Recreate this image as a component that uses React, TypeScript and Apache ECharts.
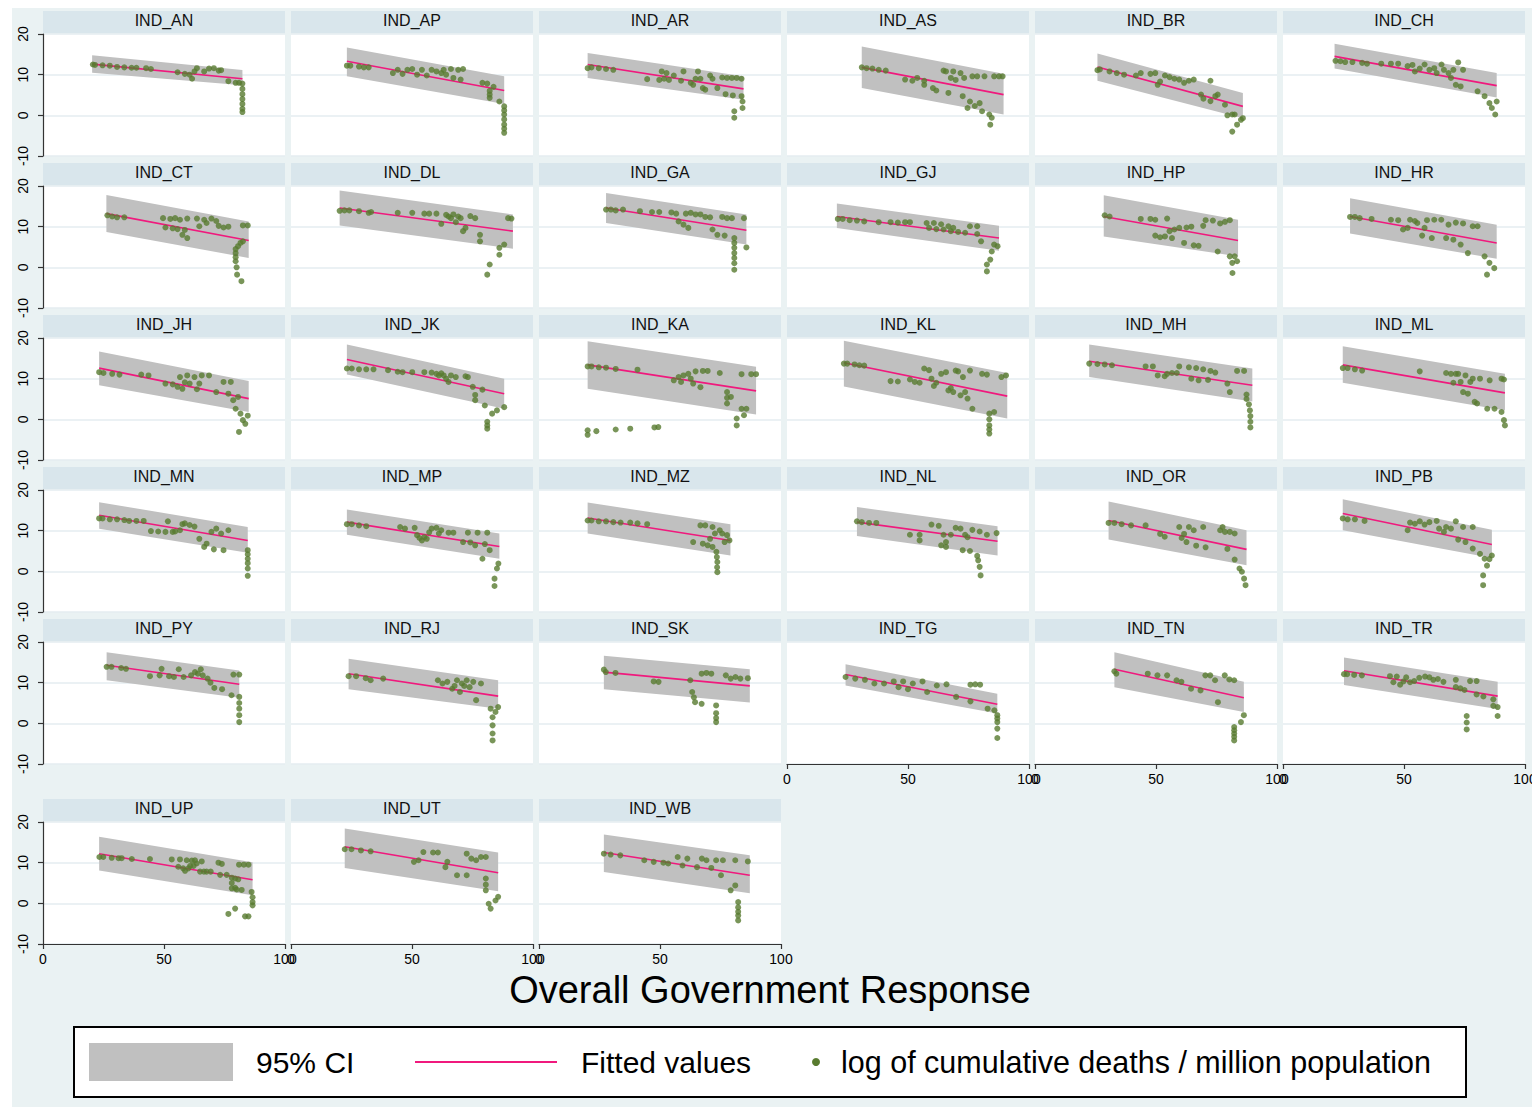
import React, { useEffect, useRef } from 'react';
import * as echarts from 'echarts';

// ---------------- DATA ----------------
const PANELS = ['IND_AN','IND_AP','IND_AR','IND_AS','IND_BR','IND_CH','IND_CT','IND_DL','IND_GA','IND_GJ','IND_HP','IND_HR','IND_JH','IND_JK','IND_KA','IND_KL','IND_MH','IND_ML','IND_MN','IND_MP','IND_MZ','IND_NL','IND_OR','IND_PB','IND_PY','IND_RJ','IND_SK','IND_TG','IND_TN','IND_TR','IND_UP','IND_UT','IND_WB'];

const X_MIN = 0, X_MAX = 100, X_STEP = 50;
const Y_MIN = -10, Y_MAX = 20, Y_STEP = 10;

const FIT_X0 = [20.3,23.1,20.1,30.9,25.8,21.3, 26.2,20.1,27.7,20.6,28.4,27.7, 23.2,23.1,20.1,23.5,22.4,24.7, 23.2,23.1,20.1,28.9,30.4,24.7, 26.3,23.8,26.8,24.2,32.8,25.2, 23.2,22.2,26.8];
const FIT_X1 = [82.4,88.1,84.5,89.5,85.9,88.3, 85.0,91.7,85.7,87.6,83.9,88.3, 85.0,88.1,89.7,91.0,89.8,91.7, 84.6,86.1,79.1,87.0,87.4,86.3, 81.1,85.6,87.1,86.9,86.3,88.7, 86.6,85.6,87.1];
const FIT_Y0 = [12.6,13.3,12.5,11.8,11.9,14.5, 13.2,14.6,14.6,12.5,12.5,12.5, 12.6,14.7,13.4,13.9,14.3,13.4, 13.8,12.1,13.1,12.1,12.5,14.2, 14.3,12.2,12.6,12.0,13.3,12.95, 12.2,13.9,12.5];
const FIT_Y1 = [9.0,6.1,6.5,5.1,2.2,7.3, 6.6,8.9,9.1,7.2,6.6,6.0, 5.1,6.3,7.0,5.7,8.4,6.5, 7.6,6.1,7.6,7.4,5.4,6.6, 9.6,6.7,9.2,4.7,6.3,6.7, 5.8,7.5,6.9];
const CI_UP0 = [14.75,16.7,15.3,16.9,15.2,17.6, 17.8,18.9,18.3,15.7,17.7,17.0, 16.7,18.4,19.2,19.3,18.4,18.0, 17.0,15.2,16.9,15.8,17.2,17.7, 17.5,15.9,16.6,14.5,17.5,16.2, 16.4,18.4,16.9];
const CI_UP1 = [11.15,9.6,9.6,10.2,5.5,10.4, 11.3,13.0,13.0,10.2,11.7,10.5, 9.4,10.0,12.9,11.4,12.5,11.2, 10.9,9.3,11.6,11.1,10.1,10.2, 13.0,10.6,13.3,7.3,10.2,10.25, 10.1,12.5,11.8];
const CI_LO0 = [10.5,9.6,9.2,6.7,8.5,11.5, 8.7,10.3,10.9,9.7,7.6,8.3, 8.4,11.0,7.5,8.1,10.4,9.0, 10.5,9.0,9.3,8.7,7.8,10.1, 10.6,8.4,8.4,9.3,8.9,9.4, 8.1,8.7,7.7];
const CI_LO1 = [7.4,2.8,3.85,0.2,-0.7,4.4, 2.3,4.6,5.6,4.1,2.7,2.1, 1.8,2.6,1.2,0.2,4.4,2.2, 4.6,3.1,3.9,3.9,1.5,3.3, 6.3,3.6,5.1,2.4,2.8,3.5, 2.0,3.0,2.5];

const P_AN = [[20.6,12.5],[21.5,12.4],[24.6,12.3],[27.6,12.2],[30.6,11.9],[33.6,11.8],[36.6,11.7],[38.6,11.7],[42.6,11.6],[44.6,11.4],[55.6,10.6],[58.6,10.2],[60.6,10.0],[61.6,9.0],[62.6,10.8],[63.6,11.6],[66.6,10.8],[68.6,11.5],[70.6,11.6],[72.6,11.0],[73.6,11.1],[76.6,8.4],[79.6,8.0],[81.0,8.0],[82.4,7.8],[82.4,6.5],[82.4,5.2],[82.4,4.0],[82.4,2.8],[82.4,1.6],[82.4,0.8]];
const P_AP = [[23.1,12.2],[24.5,12.2],[28.1,12.0],[30.1,11.8],[32.1,11.8],[42.1,10.4],[44.1,11.2],[46.1,10.2],[48.1,11.2],[50.1,11.4],[52.1,10.0],[54.1,11.2],[56.1,9.8],[58.1,11.2],[60.1,10.8],[62.1,10.4],[63.1,11.2],[64.1,10.0],[66.1,11.4],[67.1,9.2],[69.1,11.2],[70.1,8.8],[71.1,11.4],[79.1,8.0],[81.1,7.8],[82.1,6.0],[82.1,5.1],[82.1,4.3],[83.7,7.0],[86.1,3.4],[88.1,2.2],[88.1,1.2],[88.1,0.2],[88.1,-1.0],[88.1,-2.3],[88.1,-3.3],[88.1,-4.3]];
const P_AR = [[20.1,11.6],[21.7,11.8],[24.7,11.6],[27.7,11.4],[30.7,11.2],[44.7,8.9],[49.7,8.7],[50.7,10.8],[51.7,9.0],[52.7,10.4],[53.7,8.7],[55.7,9.8],[58.7,8.5],[59.7,10.8],[62.7,8.0],[63.7,7.5],[64.7,9.0],[65.7,10.8],[66.7,9.0],[67.7,6.7],[68.7,6.3],[70.7,9.8],[71.7,9.0],[73.7,6.7],[75.7,9.3],[77.7,9.2],[79.7,9.2],[81.7,9.2],[83.7,9.0],[77.1,5.2],[80.1,4.9],[80.7,1.0],[80.7,-0.6],[83.7,4.7],[84.1,3.4],[84.1,1.8]];
const P_AS = [[30.9,11.8],[32.9,11.6],[35.3,11.5],[37.9,11.2],[40.8,11.0],[48.8,8.8],[51.8,8.5],[53.8,9.2],[56.7,7.5],[56.7,8.5],[60.3,6.7],[61.7,6.1],[64.7,11.0],[65.7,10.8],[66.7,5.5],[67.7,9.2],[68.7,10.8],[69.7,8.7],[71.7,10.4],[72.6,4.7],[73.2,9.2],[74.6,1.8],[75.6,3.4],[76.6,9.6],[77.6,2.3],[78.6,9.6],[79.6,3.0],[80.6,1.0],[81.6,9.6],[83.6,0.2],[84.0,-2.3],[84.6,-0.6],[85.6,9.6],[87.6,9.6],[89.1,9.6]];
const P_BR = [[25.8,11.1],[26.8,11.3],[30.8,10.8],[33.8,10.4],[36.8,10.0],[41.7,9.8],[43.7,10.4],[47.7,10.2],[49.7,10.4],[50.7,7.5],[51.7,8.3],[53.7,9.8],[55.6,9.4],[57.6,9.0],[59.6,8.8],[61.6,8.0],[63.6,8.5],[65.6,8.8],[68.6,5.1],[69.6,4.1],[72.5,8.5],[72.5,3.5],[74.5,4.7],[75.5,5.1],[78.5,2.6],[79.5,0.0],[81.5,0.2],[81.5,-4.0],[82.5,0.2],[83.5,-2.3],[85.1,-1.1],[85.9,-0.7]];
const P_CH = [[21.7,13.4],[23.7,13.3],[25.7,13.1],[28.7,13.1],[32.7,12.9],[34.7,12.7],[40.6,12.7],[44.6,12.7],[47.6,12.7],[51.5,12.1],[53.5,12.4],[54.5,10.8],[56.5,11.5],[58.5,12.5],[60.5,11.2],[62.5,11.6],[63.5,10.4],[65.5,12.5],[66.5,11.2],[68.4,10.4],[69.4,9.2],[70.4,11.2],[71.4,7.5],[72.4,13.0],[73.4,7.1],[74.4,11.2],[80.4,5.9],[83.3,4.7],[85.3,3.0],[86.3,1.8],[87.7,0.2],[88.3,3.4]];
const P_CT = [[26.6,12.8],[28.6,12.5],[30.6,12.3],[33.6,12.3],[49.6,12.1],[50.6,9.8],[52.6,11.9],[53.6,9.6],[54.6,12.1],[55.6,9.4],[56.6,11.7],[57.6,8.0],[58.6,9.2],[59.6,7.2],[59.6,12.0],[63.6,12.0],[64.6,10.1],[66.6,11.7],[67.6,10.9],[69.6,12.0],[71.6,11.4],[72.6,10.2],[74.6,9.8],[76.6,10.0],[79.6,4.5],[79.6,3.5],[79.6,2.5],[79.6,1.5],[80.0,0.0],[80.2,-1.8],[80.6,5.2],[81.6,6.0],[82.0,-3.4],[82.6,6.4],[82.6,10.3],[84.6,10.3]];
const P_DL = [[20.1,13.9],[22.1,14.0],[24.1,14.0],[28.1,13.8],[32.1,13.4],[33.1,13.6],[44.1,13.4],[50.1,13.4],[55.1,13.2],[57.1,13.2],[60.1,13.2],[62.1,10.7],[64.1,12.9],[65.1,12.5],[66.1,12.1],[67.1,13.0],[68.1,11.1],[69.1,12.5],[70.1,12.1],[71.1,8.9],[72.1,9.7],[74.1,12.6],[76.1,12.1],[78.1,8.0],[78.1,6.4],[81.1,-1.8],[82.1,0.7],[86.1,3.1],[86.1,4.8],[88.1,5.6],[89.7,12.1],[91.1,12.0]];
const P_GA = [[27.7,14.2],[29.7,14.2],[31.7,14.0],[34.7,14.2],[41.7,13.8],[46.7,13.6],[49.7,13.6],[54.7,13.5],[56.7,13.2],[57.7,11.3],[59.7,10.5],[60.7,13.2],[61.7,9.7],[62.7,13.4],[64.7,13.0],[66.7,13.0],[68.7,12.4],[70.7,12.3],[71.7,9.3],[73.7,8.0],[75.7,12.4],[76.7,7.8],[77.7,12.1],[79.7,12.1],[80.7,7.2],[80.7,6.0],[80.7,4.8],[80.7,3.5],[80.7,2.3],[80.7,1.0],[80.7,-0.6],[84.7,12.1],[85.7,4.9]];
const P_GJ = [[21.0,11.9],[23.0,11.9],[25.9,11.6],[28.9,11.5],[31.9,11.3],[37.9,11.1],[42.8,11.1],[45.8,11.0],[48.8,11.1],[50.8,11.1],[57.7,10.9],[58.7,9.7],[60.7,10.9],[61.7,9.4],[63.7,10.6],[64.7,9.3],[66.7,10.1],[67.7,8.9],[68.7,9.7],[70.7,8.7],[73.6,8.5],[75.6,10.1],[78.6,8.2],[78.6,10.1],[80.2,6.4],[82.6,-1.0],[82.6,0.7],[84.0,1.9],[84.6,3.9],[85.6,5.6],[87.0,5.2]];
const P_HP = [[28.8,12.8],[30.8,12.5],[43.7,11.9],[47.7,11.9],[49.7,11.7],[54.6,12.0],[49.7,7.8],[51.7,7.4],[53.7,7.6],[55.6,8.9],[56.6,7.2],[57.6,9.3],[59.6,9.7],[61.6,6.0],[62.6,9.8],[64.6,10.0],[65.6,5.4],[67.6,5.3],[69.5,10.2],[70.5,11.6],[73.5,11.5],[75.5,3.9],[76.5,10.8],[78.5,11.2],[80.5,11.6],[80.5,2.7],[81.5,1.1],[82.5,2.7],[81.6,-1.4],[83.5,1.5]];
const P_HR = [[27.7,12.4],[29.7,12.4],[31.7,12.1],[36.6,11.9],[44.6,11.7],[47.6,11.6],[49.6,9.3],[51.5,9.7],[52.5,11.7],[54.5,11.4],[55.5,10.9],[57.5,7.8],[58.5,9.7],[59.5,11.6],[61.5,7.2],[62.5,11.7],[65.4,11.7],[67.4,7.2],[68.4,10.5],[70.4,6.8],[71.4,11.0],[73.4,5.6],[74.4,10.8],[76.4,3.5],[78.4,10.1],[80.4,10.1],[83.3,2.7],[84.3,-1.8],[85.3,1.1],[87.3,-0.2]];
const P_JH = [[23.2,11.6],[25.0,11.4],[28.6,11.2],[31.6,11.0],[40.6,11.0],[43.6,10.8],[50.6,8.8],[53.6,8.6],[55.6,8.0],[56.6,10.4],[57.6,7.5],[58.6,9.1],[59.6,10.8],[60.6,8.8],[62.6,10.4],[63.6,7.4],[64.6,8.8],[65.6,10.8],[68.6,10.8],[71.6,6.7],[74.6,9.2],[76.6,6.3],[77.6,9.2],[78.6,4.7],[79.6,2.6],[80.6,5.5],[81.0,-3.1],[81.6,1.4],[82.6,-0.2],[83.6,-1.1],[84.6,0.9]];
const P_JK = [[23.1,12.5],[25.1,12.5],[28.1,12.3],[31.1,12.3],[34.1,12.3],[40.1,12.1],[44.1,11.7],[46.1,11.6],[50.1,11.6],[55.1,11.6],[58.1,11.5],[60.1,11.2],[61.1,10.8],[62.1,11.3],[63.1,10.8],[64.1,10.0],[65.1,9.2],[66.1,10.8],[68.1,10.4],[72.1,10.6],[73.1,10.4],[75.1,8.0],[76.1,6.0],[76.1,4.7],[79.1,7.3],[80.1,3.4],[81.1,-2.3],[81.1,-1.5],[81.1,-0.6],[83.1,1.4],[85.1,2.2],[88.1,3.0]];
const P_KA = [[20.1,13.0],[21.7,13.0],[24.7,12.8],[27.7,12.7],[31.7,12.4],[40.7,12.2],[55.7,9.6],[57.7,10.4],[58.7,9.2],[59.7,10.8],[61.7,11.2],[62.7,10.0],[63.7,8.8],[64.7,11.8],[66.7,7.9],[67.7,11.9],[69.7,11.9],[74.7,11.4],[77.7,6.7],[77.7,5.3],[77.7,3.9],[79.3,5.5],[81.7,0.2],[81.7,-1.5],[83.7,2.6],[84.7,1.0],[85.7,2.6],[83.7,11.1],[87.7,11.1],[89.7,11.1],[20.1,-3.8],[20.1,-2.7],[23.7,-2.9],[31.7,-2.5],[37.7,-2.3],[47.7,-2.0],[49.3,-1.9]];
const P_KL = [[23.5,13.7],[24.9,13.7],[27.9,13.5],[29.9,13.3],[31.9,13.2],[42.8,9.4],[45.8,9.3],[50.8,9.8],[52.8,9.2],[54.8,9.0],[56.7,12.5],[58.7,12.1],[59.7,10.0],[60.7,8.2],[61.7,9.0],[63.7,11.2],[65.7,11.6],[66.7,7.1],[67.7,7.7],[68.7,6.7],[69.7,12.0],[70.7,11.8],[71.7,5.9],[72.7,10.4],[73.6,6.7],[74.6,5.1],[75.6,12.0],[76.6,2.6],[80.6,11.2],[82.6,11.0],[83.6,1.4],[83.6,0.0],[83.6,-1.5],[83.6,-2.5],[83.6,-3.5],[85.6,1.8],[88.6,10.4],[90.5,10.8]];
const P_MH = [[22.4,13.7],[25.8,13.6],[28.8,13.5],[31.8,13.3],[45.7,13.0],[48.7,13.0],[50.7,10.8],[53.6,10.6],[54.6,11.2],[56.6,11.4],[58.6,11.4],[59.6,13.0],[63.6,12.8],[64.6,10.0],[66.6,12.6],[67.6,9.6],[69.5,12.3],[71.5,9.7],[72.5,11.9],[74.5,11.5],[79.5,8.8],[80.5,6.7],[83.5,11.9],[86.4,11.9],[87.4,6.1],[87.4,5.0],[88.4,3.7],[88.8,2.2],[89.0,0.8],[89.0,-0.6],[89.0,-2.0]];
const P_ML = [[24.7,12.6],[26.7,12.6],[29.7,12.3],[32.7,12.0],[56.5,11.8],[67.4,11.4],[69.4,11.2],[70.4,9.0],[71.4,11.2],[72.4,11.2],[73.4,9.2],[74.4,6.7],[75.4,10.8],[76.4,6.3],[77.4,9.2],[78.4,10.0],[79.2,4.3],[80.2,3.9],[81.4,10.0],[84.4,2.6],[85.4,9.6],[87.4,2.6],[90.3,1.8],[91.3,-0.2],[91.7,-1.5],[90.3,10.0],[91.3,9.8]];
const P_MN = [[23.2,13.0],[24.6,13.0],[27.6,12.8],[30.6,12.8],[33.6,12.6],[35.6,12.4],[38.6,12.4],[41.6,12.4],[44.6,9.9],[47.6,9.8],[50.6,9.7],[51.6,12.3],[53.6,9.7],[54.6,9.8],[56.6,10.1],[57.6,11.6],[58.6,11.8],[60.6,11.4],[62.6,11.0],[64.6,8.0],[66.6,6.0],[67.6,6.8],[69.6,9.7],[70.6,5.4],[71.6,10.5],[73.6,9.3],[74.6,5.2],[76.6,10.1],[84.6,5.2],[84.6,4.2],[84.6,3.1],[84.6,2.0],[84.6,0.7],[84.6,-1.1]];
const P_MP = [[23.1,11.6],[25.1,11.6],[28.1,11.3],[31.1,11.1],[45.1,10.9],[47.1,10.5],[51.1,10.7],[52.1,8.9],[53.1,8.2],[54.1,7.6],[55.1,8.4],[56.1,8.0],[57.1,9.6],[58.1,10.5],[60.1,10.7],[61.1,9.3],[62.1,10.1],[65.1,9.5],[67.1,9.5],[71.1,7.2],[73.1,9.5],[74.1,7.1],[76.1,6.4],[77.1,9.5],[79.1,3.1],[80.1,6.7],[81.1,9.5],[82.1,5.2],[84.1,-1.8],[84.1,-3.6],[85.1,0.7],[85.7,1.9]];
const P_MZ = [[20.1,12.5],[21.7,12.5],[24.7,12.3],[27.7,12.3],[30.7,12.1],[33.7,12.0],[37.7,12.0],[40.7,11.8],[44.7,11.6],[63.7,7.2],[66.7,11.3],[67.7,6.8],[68.7,11.3],[69.7,6.4],[70.7,8.0],[71.7,10.9],[71.7,6.0],[72.7,9.3],[73.3,4.8],[73.5,3.5],[73.7,2.3],[73.6,1.0],[73.7,-0.2],[74.7,10.1],[75.7,9.3],[76.7,7.2],[77.7,8.9],[78.7,7.6]];
const P_NL = [[28.9,12.3],[30.9,12.1],[33.9,11.9],[36.9,11.9],[50.8,9.0],[54.8,7.6],[54.8,9.0],[59.7,11.5],[62.7,11.2],[63.7,6.4],[64.7,9.0],[65.7,6.0],[65.7,7.2],[67.7,9.0],[69.7,10.7],[71.7,10.5],[72.6,5.2],[73.6,9.0],[74.6,8.4],[75.6,5.0],[76.6,10.2],[78.6,3.8],[79.0,2.7],[79.6,1.1],[80.0,-1.0],[79.6,9.8],[82.6,9.0],[86.6,9.4]];
const P_OR = [[30.4,11.9],[32.8,11.9],[35.8,11.6],[39.7,11.3],[45.7,11.3],[51.7,9.2],[53.6,8.5],[59.6,10.9],[60.6,8.2],[61.6,9.2],[62.6,7.2],[63.6,10.9],[65.6,10.1],[66.6,6.3],[69.5,10.9],[70.5,5.9],[76.5,10.1],[77.5,10.9],[78.5,9.7],[79.5,5.5],[80.5,9.7],[82.5,9.3],[82.5,2.9],[84.5,0.7],[85.5,-0.1],[86.4,-1.8],[87.0,-3.4]];
const P_PB = [[24.7,13.0],[26.7,12.8],[29.7,12.8],[33.7,12.4],[51.5,10.1],[52.5,12.0],[54.5,11.7],[56.5,12.3],[58.5,11.5],[60.5,12.1],[63.5,12.4],[64.5,10.5],[66.5,9.7],[67.4,10.9],[69.4,10.5],[71.4,12.3],[72.4,7.8],[74.4,10.9],[75.4,7.2],[78.4,10.9],[78.4,5.6],[81.4,4.3],[83.3,3.1],[82.7,-1.0],[82.7,-3.4],[84.3,1.4],[85.3,3.0],[86.3,3.9]];
const P_PY = [[26.3,13.9],[28.3,13.9],[32.3,13.6],[34.3,13.4],[44.2,11.6],[48.2,11.8],[49.0,13.4],[52.1,11.6],[54.1,11.4],[56.1,13.3],[58.1,11.4],[61.2,11.8],[62.8,12.6],[64.0,12.2],[65.2,13.3],[66.0,11.8],[68.0,11.0],[69.2,10.0],[70.8,8.7],[74.0,8.4],[77.9,6.9],[78.7,12.0],[81.1,12.0],[81.1,6.5],[81.1,5.0],[81.1,3.6],[81.1,2.0],[81.1,0.3]];
const P_RJ = [[23.8,11.6],[26.9,11.6],[30.9,11.1],[32.9,10.6],[38.1,11.0],[60.7,10.6],[62.6,9.8],[64.6,10.2],[66.6,8.5],[67.6,9.2],[68.6,10.6],[69.8,7.7],[70.6,9.8],[71.6,9.2],[72.6,10.6],[73.8,8.9],[75.3,10.2],[76.5,5.7],[78.5,9.8],[82.5,3.6],[83.3,1.5],[83.3,-0.5],[83.3,-2.5],[83.3,-4.2],[84.5,2.8],[85.6,4.0]];
const P_SK = [[26.8,13.2],[27.6,12.6],[31.6,12.4],[47.4,10.3],[49.4,10.2],[62.5,10.6],[63.3,7.7],[64.0,6.4],[64.5,5.2],[67.2,4.8],[67.2,12.2],[69.2,12.4],[71.2,12.2],[73.2,4.4],[73.2,2.5],[73.2,1.3],[73.2,0.3],[77.2,11.8],[79.2,11.0],[81.2,11.4],[83.2,11.0],[86.3,11.1]];
const P_TG = [[24.2,11.4],[28.2,11.0],[32.2,10.7],[36.1,9.8],[40.1,9.8],[44.1,10.3],[46.1,8.9],[48.0,10.3],[50.0,8.4],[52.0,9.8],[56.0,10.3],[57.9,7.7],[61.9,9.3],[65.9,9.6],[69.9,6.5],[75.8,9.5],[77.8,9.6],[79.8,9.5],[75.8,5.4],[82.9,3.6],[85.7,3.2],[86.9,2.0],[86.9,1.2],[86.9,0.3],[86.9,-1.3],[86.9,-3.6]];
const P_TN = [[32.8,12.8],[33.6,12.2],[46.6,12.2],[50.6,11.8],[54.6,11.8],[58.5,10.6],[60.5,10.2],[64.5,8.5],[68.4,8.1],[70.4,11.8],[72.4,11.8],[74.4,10.6],[75.6,5.2],[78.4,11.8],[80.3,10.8],[82.3,10.6],[82.3,-0.9],[82.3,-1.7],[82.3,-2.5],[82.3,-3.3],[82.3,-4.2],[85.1,0.3],[86.3,2.0]];
const P_TR = [[25.2,12.1],[26.5,12.1],[29.4,11.9],[32.6,11.8],[44.2,11.6],[45.6,10.1],[47.0,11.5],[48.4,9.5],[49.8,10.3],[50.9,11.3],[52.5,10.1],[54.2,10.4],[56.3,11.2],[58.7,11.5],[60.5,11.3],[62.1,10.7],[64.0,10.9],[66.3,10.2],[71.4,10.7],[71.4,8.9],[73.3,8.6],[75.0,8.2],[75.9,1.8],[75.9,0.2],[75.9,-1.5],[77.3,10.4],[80.0,10.4],[80.0,7.1],[82.8,6.6],[86.9,5.9],[86.9,4.3],[88.7,4.0],[88.7,1.8]];
const P_UP = [[23.3,11.4],[24.9,11.4],[28.4,11.2],[31.2,11.1],[32.5,11.1],[36.7,10.9],[44.2,10.9],[53.2,10.8],[55.9,9.0],[56.6,10.8],[57.9,8.6],[58.7,8.0],[59.4,10.6],[60.1,8.6],[60.8,9.2],[61.5,10.5],[62.2,9.2],[62.8,10.6],[63.5,9.8],[64.9,7.8],[65.6,10.3],[66.5,7.8],[67.6,7.8],[69.3,7.8],[72.5,10.0],[73.2,7.0],[73.9,9.7],[75.9,7.0],[78.0,6.3],[78.0,5.0],[78.0,3.7],[79.4,6.1],[79.4,3.8],[79.4,-1.3],[80.7,5.9],[80.0,3.4],[76.6,-2.6],[82.1,3.3],[83.5,-3.2],[84.9,-3.2],[84.9,9.5],[81.0,9.5],[83.0,9.5],[86.2,2.8],[86.6,1.5],[86.6,0.3],[86.6,-0.5]];
const P_UT = [[22.2,13.3],[25.0,13.3],[28.9,13.0],[32.9,12.8],[50.8,10.2],[52.7,10.6],[54.7,12.6],[58.7,12.5],[60.7,12.5],[63.8,8.9],[64.6,10.2],[68.6,6.9],[72.6,6.9],[72.6,12.2],[74.5,11.0],[76.5,10.6],[78.5,11.4],[80.5,11.4],[80.5,6.1],[80.5,4.6],[80.5,3.2],[81.7,-0.1],[82.5,-1.3],[84.5,0.7],[85.6,1.6]];
const P_WB = [[26.8,12.2],[29.6,12.0],[33.6,11.8],[43.5,10.6],[47.4,10.2],[51.4,10.0],[53.4,9.8],[57.3,11.4],[59.3,9.3],[61.3,11.0],[65.3,8.9],[67.3,11.0],[69.2,10.6],[71.2,8.7],[73.2,10.6],[75.2,6.9],[76.0,10.6],[79.2,3.2],[81.1,4.4],[82.3,0.3],[82.3,-1.0],[82.3,-2.1],[82.3,-3.0],[82.3,-4.2],[81.1,10.6],[86.3,10.3]];

const POINTS = [P_AN,P_AP,P_AR,P_AS,P_BR,P_CH,P_CT,P_DL,P_GA,P_GJ,P_HP,P_HR,P_JH,P_JK,P_KA,P_KL,P_MH,P_ML,P_MN,P_MP,P_MZ,P_NL,P_OR,P_PB,P_PY,P_RJ,P_SK,P_TG,P_TN,P_TR,P_UP,P_UT,P_WB];

const X_TITLE = 'Overall Government Response';
const LEGEND_CI = '95% CI';
const LEGEND_FIT = 'Fitted values';
const LEGEND_PTS = 'log of cumulative deaths / million population';

// ---------------- STYLE / LAYOUT ----------------
const FONT = '"Liberation Sans", Arial, Helvetica, sans-serif';
const BG = '#eaf2f3';
const STRIP = '#d9e6ec';
const GRIDLINE = '#e4edf0';
const CI_COLOR = '#c0c0c0';
const FIT_COLOR = '#f0197d';
const PT_COLOR = '#587b2f';
const AXIS_COLOR = '#333333';

const OX = 12, OY = 8; // chart div offset inside page
const PW = 242, PH = 122, COL_STEP = 248, LEFT0 = 43;
const ROW_TOPS = [34, 186, 338, 490, 642, 822];

function buildOption() {
  const grids: any[] = [];
  const xAxes: any[] = [];
  const yAxes: any[] = [];
  const series: any[] = [];
  const elements: any[] = [];

  PANELS.forEach((name, i) => {
    const row = Math.floor(i / 6);
    const col = i % 6;
    const left = LEFT0 + COL_STEP * col - OX;
    const top = ROW_TOPS[row] - OY;
    const bottomAxis = row === 5 || (row === 4 && col >= 3);
    const leftAxis = col === 0;

    grids.push({ left, top, width: PW, height: PH, show: true, backgroundColor: '#ffffff', borderWidth: 0, containLabel: false, outerBoundsMode: 'none' });

    xAxes.push({
      type: 'value', gridIndex: i, min: X_MIN, max: X_MAX, interval: X_STEP,
      show: bottomAxis,
      axisLine: { show: true, onZero: false, lineStyle: { color: AXIS_COLOR, width: 1.2 } },
      axisTick: { show: true, length: 5, lineStyle: { color: AXIS_COLOR, width: 1.2 } },
      axisLabel: { show: true, fontSize: 14, color: '#000', margin: 8, fontFamily: FONT, showMinLabel: true, showMaxLabel: true, hideOverlap: false },
      splitLine: { show: false },
    });

    yAxes.push({
      type: 'value', gridIndex: i, min: Y_MIN, max: Y_MAX, interval: Y_STEP,
      axisLine: { show: leftAxis, onZero: false, lineStyle: { color: AXIS_COLOR, width: 1.2 } },
      axisTick: { show: leftAxis, length: 5, lineStyle: { color: AXIS_COLOR, width: 1.2 } },
      axisLabel: { show: leftAxis, rotate: 90, fontSize: 14, color: '#000', margin: 13, fontFamily: FONT, showMinLabel: true, showMaxLabel: true },
      splitLine: { show: true, lineStyle: { color: GRIDLINE, width: 1.5 } },
    });

    series.push({
      type: 'custom', name: LEGEND_CI, xAxisIndex: i, yAxisIndex: i, silent: true,
      data: [[FIT_X0[i], FIT_X1[i], CI_UP0[i], CI_UP1[i], CI_LO0[i], CI_LO1[i]]],
      encode: { x: [0, 1], y: [2, 3, 4, 5] },
      renderItem: (params: any, api: any) => {
        const a = api.coord([api.value(0), api.value(2)]);
        const b = api.coord([api.value(1), api.value(3)]);
        const c = api.coord([api.value(1), api.value(5)]);
        const d = api.coord([api.value(0), api.value(4)]);
        return { type: 'polygon', shape: { points: [a, b, c, d] }, style: { fill: CI_COLOR } };
      },
      z: 1,
    });

    series.push({
      type: 'line', name: LEGEND_FIT, xAxisIndex: i, yAxisIndex: i, silent: true,
      data: [[FIT_X0[i], FIT_Y0[i]], [FIT_X1[i], FIT_Y1[i]]],
      showSymbol: false, symbol: 'none',
      lineStyle: { color: FIT_COLOR, width: 1.6 },
      z: 2,
    });

    series.push({
      type: 'scatter', name: LEGEND_PTS, xAxisIndex: i, yAxisIndex: i, silent: true,
      data: POINTS[i], symbol: 'circle', symbolSize: 6,
      itemStyle: { color: PT_COLOR },
      z: 3,
    });

    // panel title strip
    elements.push({ type: 'rect', shape: { x: left, y: top - 23, width: PW, height: 22 }, style: { fill: STRIP }, silent: true });
    elements.push({ type: 'text', x: left + PW / 2, y: top - 13.5, style: { text: name, font: `16px ${FONT}`, fill: '#111', align: 'center', verticalAlign: 'middle' }, silent: true });
  });

  // overall x-axis title
  elements.push({ type: 'text', x: 770 - OX, y: 990 - OY, style: { text: X_TITLE, font: `38px ${FONT}`, fill: '#000', align: 'center', verticalAlign: 'middle' }, silent: true });

  // legend box
  const LY = 1062 - OY;
  elements.push({ type: 'rect', shape: { x: 74 - OX, y: 1027 - OY, width: 1392, height: 70 }, style: { fill: '#ffffff', stroke: '#000', lineWidth: 2 }, silent: true });
  elements.push({ type: 'rect', shape: { x: 89 - OX, y: 1043 - OY, width: 144, height: 38 }, style: { fill: CI_COLOR }, silent: true });
  elements.push({ type: 'text', x: 256 - OX, y: LY, style: { text: LEGEND_CI, font: `30px ${FONT}`, fill: '#000', align: 'left', verticalAlign: 'middle' }, silent: true });
  elements.push({ type: 'line', shape: { x1: 415 - OX, y1: LY, x2: 557 - OX, y2: LY }, style: { stroke: FIT_COLOR, lineWidth: 2 }, silent: true });
  elements.push({ type: 'text', x: 581 - OX, y: LY, style: { text: LEGEND_FIT, font: `30px ${FONT}`, fill: '#000', align: 'left', verticalAlign: 'middle' }, silent: true });
  elements.push({ type: 'circle', shape: { cx: 816 - OX, cy: LY, r: 4 }, style: { fill: PT_COLOR }, silent: true });
  elements.push({ type: 'text', x: 841 - OX, y: LY, style: { text: LEGEND_PTS, font: `30.5px ${FONT}`, fill: '#000', align: 'left', verticalAlign: 'middle' }, silent: true });

  return {
    animation: false,
    backgroundColor: BG,
    textStyle: { fontFamily: FONT },
    grid: grids,
    xAxis: xAxes,
    yAxis: yAxes,
    series,
    graphic: { elements },
  };
}

export default function App() {
  const ref = useRef<HTMLDivElement>(null);
  useEffect(() => {
    if (!ref.current) return;
    const chart = echarts.init(ref.current, null, { renderer: 'svg' });
    chart.setOption(buildOption() as any);
    return () => chart.dispose();
  }, []);
  return (
    <div style={{ position: 'absolute', left: 0, top: 0, width: 1532, height: 1107, background: '#ffffff', overflow: 'hidden' }}>
      <div ref={ref} style={{ position: 'absolute', left: OX, top: OY, width: 1532 - OX, height: 1107 - OY }} />
    </div>
  );
}
